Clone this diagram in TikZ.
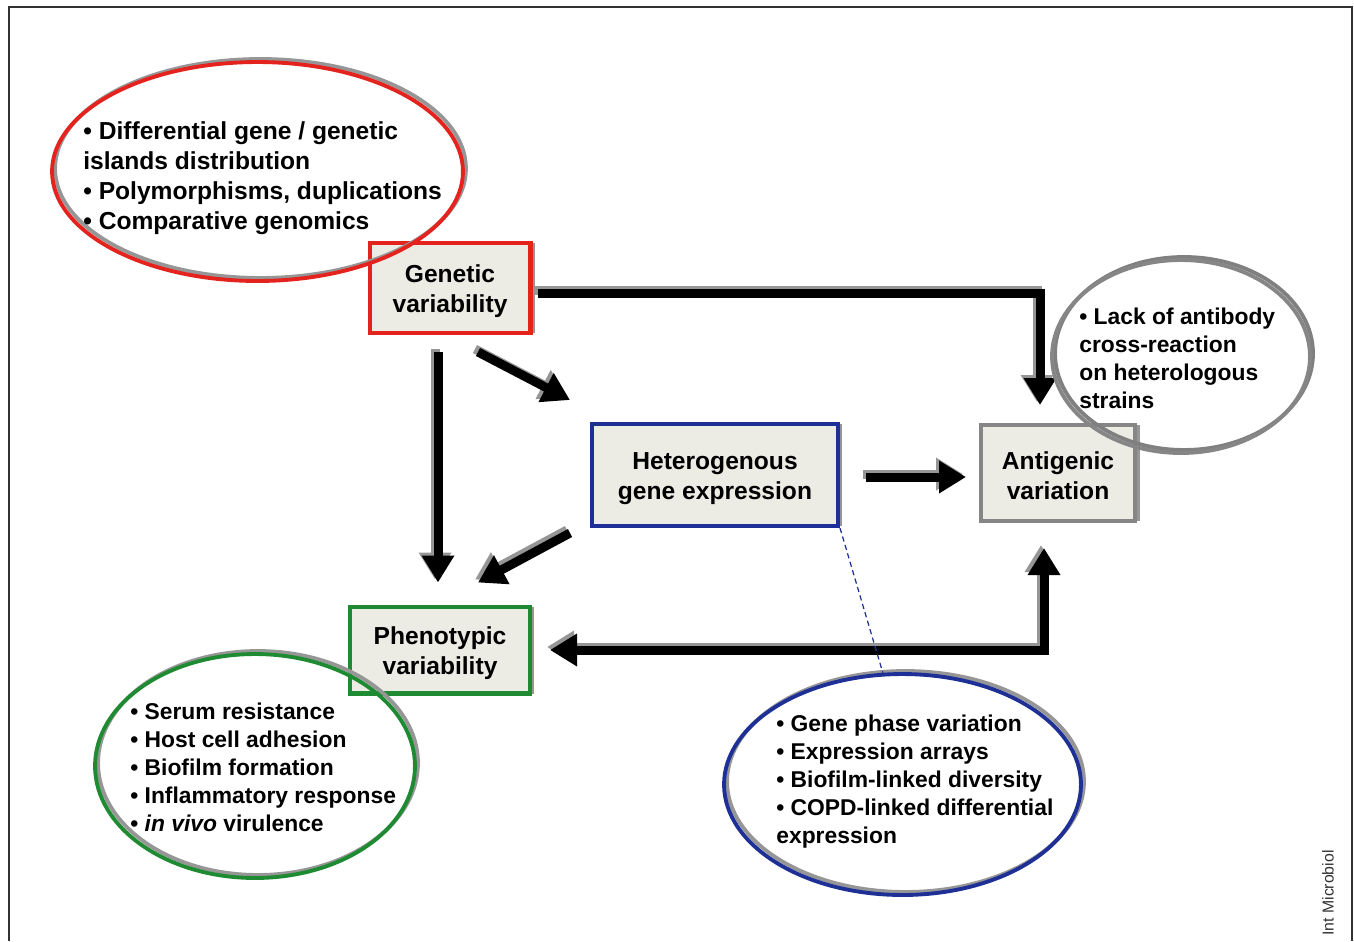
\documentclass[tikz,border=0pt]{standalone}
\usepackage{fontspec}
\setmainfont{Liberation Sans}
\usetikzlibrary{arrows.meta,shapes.geometric,shadows}
\definecolor{cred}{RGB}{228,34,30}
\definecolor{cblue}{RGB}{30,48,150}
\definecolor{cgreen}{RGB}{30,138,50}
\definecolor{cgray}{RGB}{134,134,134}
\definecolor{boxfill}{RGB}{236,235,228}
\definecolor{shgray}{RGB}{150,150,150}
\definecolor{framec}{RGB}{50,50,50}
\newcommand\bigfont{\bfseries\fontsize{14pt}{17pt}\selectfont}
\newcommand\smallfont{\bfseries\fontsize{13pt}{15.9pt}\selectfont}
\newcommand\topstrut{\rule{0pt}{13.4pt}}
\newcommand\allarrows[1]{%
  \draw[#1,->] ([shift={(5,5)}]gen.east) -| ([shift={(-18,-18)}]ant.north);
  \draw[#1,->] ([shift={(-12,17)}]gen.south) -- ([shift={(-2,-22)}]phe.north);
  \draw[#1,->] ([shift={(28,17)}]gen.south) -- ([shift={(-20,-22)}]het.north west);
  \draw[#1,->] ([shift={(-20,5)}]het.south west) -- ([shift={(38,-22)}]phe.north);
  \draw[#1,->] ([shift={(26,2)}]het.east) -- ([shift={(-13,4)}]ant.west);
  \draw[#1,<->] ([shift={(18,0)}]phe.east) -| ([shift={(-14,25)}]ant.south);
}
\begin{document}
\begin{tikzpicture}[x={(0.02cm,0)},y={(0,-0.02cm)},
  box/.style={draw, line width=2.3pt, fill=boxfill, align=center, inner sep=0pt,
    font=\bigfont, drop shadow={shadow xshift=0.09cm, shadow yshift=0cm, fill=shgray, opacity=1}},
  ell/.style={ellipse, draw, line width=2.2pt, inner sep=0pt},
  ellsh/.style={ellipse, draw=shgray, line width=2.2pt, inner sep=0pt},
  txt/.style={anchor=west, align=left, inner sep=0pt},
  arrline/.style={line width=0.18cm, line join=miter, >={Triangle[length=0.54cm,width=0.62cm]}},
  blk/.style={arrline, draw=black},
  shd/.style={arrline, draw=shgray}
]
\useasboundingbox (0,0) rectangle (1354,941);
% frame
\draw[framec, line width=1.4pt] (9,941) -- (9,7) -- (1352,7) -- (1352,941);

% boxes
\node[box, draw=cred, minimum width=3.22cm, minimum height=1.8cm] (gen) at (450,288) {\topstrut Genetic\\variability};
\node[box, draw=cblue, minimum width=4.92cm, minimum height=2.04cm] (het) at (715,475) {\topstrut Heterogenous\\gene expression};
\node[box, draw=cgray, minimum width=3.08cm, minimum height=1.92cm] (ant) at (1058,473) {\topstrut Antigenic\\variation};
\node[box, draw=cgreen, minimum width=3.6cm, minimum height=1.74cm] (phe) at (440,650) {\topstrut Phenotypic\\variability};

% arrows
\begin{scope}[transform canvas={xshift=-0.06cm, yshift=0.06cm}]
\allarrows{shd}
\end{scope}
\allarrows{blk}

% ellipse shadows
\node[ellsh, minimum width=8.22cm, minimum height=4.38cm] (ersh) at (260.5,168.5) {};
\node[ellsh, draw=gray, minimum width=5.16cm, minimum height=3.86cm] (egsh) at (1184,353.5) {};
\node[ellsh, minimum width=6.4cm, minimum height=4.48cm] (egrsh) at (258,763) {};
\node[ellsh, minimum width=7.14cm, minimum height=4.42cm] (ebsh) at (905.5,781.5) {};

% ellipses
\node[ell, draw=cred, minimum width=8.22cm, minimum height=4.38cm] (er) at (257.5,171.5) {};
\node[ell, draw=cgray, minimum width=5.16cm, minimum height=3.86cm] (eg) at (1181,356.5) {};
\node[ell, draw=cgreen, minimum width=6.4cm, minimum height=4.48cm] (egr) at (255,766) {};
\node[ell, draw=cblue, minimum width=7.14cm, minimum height=4.42cm] (eb) at (902.5,784.5) {};

% dashed link
\draw[cblue, line width=0.7pt, dash pattern=on 3pt off 2pt] (het.south east) -- (eb.100);

% ellipse texts
\node[txt, font=\bigfont] (tr) at (83,178) {• Differential gene / genetic\\islands distribution\\• Polymorphisms, duplications\\• Comparative genomics};
\node[txt, font=\smallfont] (tg) at (1079,358.5) {• Lack of antibody\\cross-reaction\\on heterologous\\strains};
\node[txt, font=\smallfont] (tgr) at (130,767.5) {• Serum resistance\\• Host cell adhesion\\• Biofilm formation\\• Inflammatory response\\• \textit{in vivo} virulence};
\node[txt, font=\smallfont] (tb) at (776,781.5) {• Gene phase variation\\• Expression arrays\\• Biofilm-linked diversity\\• COPD-linked differential\\expression};

% credit
\node[rotate=90, font=\fontsize{9pt}{11pt}\selectfont, text=framec, inner sep=0pt] (cred) at (1328,893) {Int Microbiol};
\end{tikzpicture}
\end{document}
